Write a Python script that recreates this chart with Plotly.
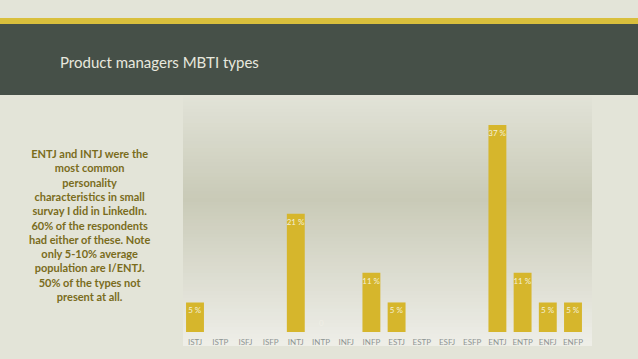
import plotly.graph_objects as go

# ---- data ----
types = ["ISTJ", "ISTP", "ISFJ", "ISFP", "INTJ", "INTP", "INFJ", "INFP",
         "ESTJ", "ESTP", "ESFJ", "ESFP", "ENTJ", "ENTP", "ENFJ", "ENFP"]
shares = [5.26, 0, 0, 0, 21.05, 0, 0, 10.53, 5.26, 0, 0, 0, 36.84, 10.53, 5.26, 5.26]
bar_labels = ["5 %", "", "", "", "21 %", "", "", "11 %", "5 %", "", "", "", "37 %", "11 %", "5 %", "5 %"]
title_text = "Product managers MBTI types"
note_lines = ["ENTJ and INTJ were the", "most common", "personality",
              "characteristics in small", "survay I did in LinkedIn.",
              "60% of the respondents", "had either of these. Note",
              "only 5-10% average", "population are I/ENTJ.",
              "50% of the types not", "present at all."]

W, H = 638, 359

def px_x(x):
    return x / W

def px_y(y):
    return 1 - y / H

def mix(c1, c2, t):
    return "rgb(%d,%d,%d)" % tuple(round(a + (b - a) * t) for a, b in zip(c1, c2))

shapes = []
# gold stripe + dark header band
shapes.append(dict(type="rect", xref="paper", yref="paper", x0=0, x1=1,
                   y0=px_y(24), y1=px_y(18), fillcolor="#d9bf3c", line_width=0, layer="below"))
shapes.append(dict(type="rect", xref="paper", yref="paper", x0=0, x1=1,
                   y0=px_y(95), y1=px_y(24), fillcolor="#465048", line_width=0, layer="below"))

# chart area gradient background (bands)
top_c = (226, 227, 216)
mid_c = (201, 202, 183)
bot_c = (238, 238, 232)
y_top, y_mid, y_bot = 96, 200, 346
n = 70
for i in range(n):
    ya = y_top + (y_bot - y_top) * i / n
    yb = y_top + (y_bot - y_top) * (i + 1) / n
    yc = (ya + yb) / 2
    if yc < y_mid:
        col = mix(top_c, mid_c, (yc - y_top) / (y_mid - y_top))
    else:
        col = mix(mid_c, bot_c, (yc - y_mid) / (y_bot - y_mid))
    ya_ext = ya - 1.5 if i > 0 else ya
    shapes.append(dict(type="rect", xref="paper", yref="paper",
                       x0=px_x(183), x1=px_x(592), y0=px_y(yb), y1=px_y(ya_ext),
                       fillcolor=col, line_width=0, layer="below"))

fig = go.Figure()
fig.add_trace(go.Bar(
    x=types, y=shares, text=bar_labels,
    textposition="inside", insidetextanchor="end", textangle=0,
    constraintext="none",
    textfont=dict(color="#f4f0d8", size=8, family="Lato"),
    marker=dict(color="#d6b62c", line_width=0),
    hoverinfo="skip",
))

annotations = [
    dict(text=title_text, xref="paper", yref="paper", x=px_x(58), y=px_y(62),
         xanchor="left", yanchor="middle", showarrow=False,
         font=dict(family="Lato", size=15, color="#e8e8de")),
    dict(text="<br>".join(note_lines), xref="paper", yref="paper",
         x=px_x(90), y=px_y(225), xanchor="center", yanchor="middle",
         showarrow=False, align="center",
         font=dict(family="Lato", size=11, color="#7a6c1c", weight="bold")),
    dict(text="0", x="INTP", y=0, xref="x", yref="y", yanchor="bottom",
         showarrow=False, yshift=2, font=dict(family="Lato", size=8, color="#f0efe6")),
]

fig.update_layout(
    width=W, height=H, margin=dict(l=0, r=0, t=0, b=0),
    paper_bgcolor="#e3e4d8", plot_bgcolor="rgba(0,0,0,0)",
    shapes=shapes, annotations=annotations, showlegend=False,
    bargap=0.29,
    xaxis=dict(domain=[px_x(182.4), px_x(585.6)], range=[-0.5, 15.5],
               showgrid=False, zeroline=False, showline=False, ticks="",
               ticklabelstandoff=4,
               tickfont=dict(family="Lato", size=8, color="#8e9594")),
    yaxis=dict(domain=[px_y(332), px_y(107.2)], range=[0, 40],
               showgrid=False, zeroline=False, showline=False, showticklabels=False),
)

fig.write_html("out.html", config={"displayModeBar": False},
               post_script="document.body.style.margin='0';document.body.style.background='#e3e4d8';")
